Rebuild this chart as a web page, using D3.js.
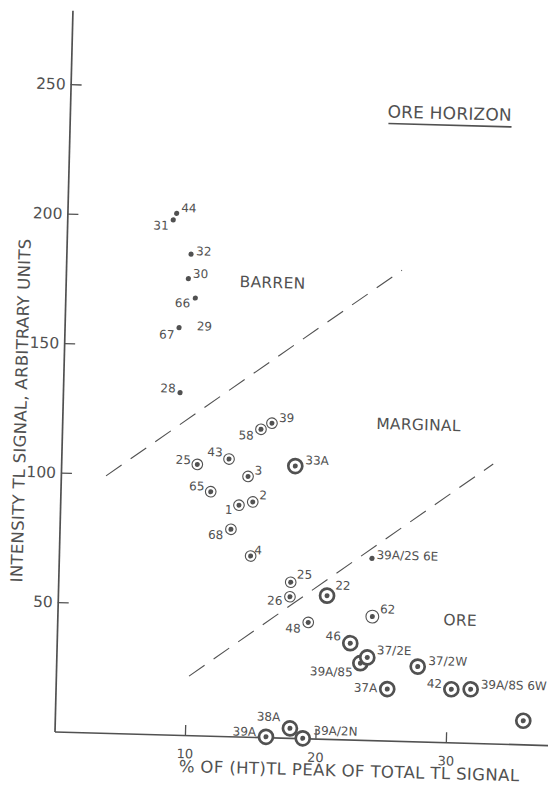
<!DOCTYPE html>
<html>
<head>
<meta charset="utf-8">
<script src="https://cdn.jsdelivr.net/npm/d3@7"></script>
<style>
  html, body { margin: 0; padding: 0; background: #fff; }
  svg { display: block; font-family: "DejaVu Sans", "Liberation Sans", sans-serif; }
</style>
</head>
<body>
<svg id="chart" width="548" height="792"></svg>
<script>
// Samples: share of the (HT) TL peak in the total TL signal (%) and TL intensity (arbitrary units)
const sampleId = ["44", "31", "32", "30", "66", "67", "29", "28",
  "39", "58", "25", "43", "33A", "3", "65", "1", "2", "68", "4",
  "39A/2S 6E", "25", "26", "22", "62", "48", "46", "39A/85", "37/2E", "37/2W",
  "37A", "42", "39A/8S 6W", "", "39A", "38A", "39A/2N"];
const pctHT = [8.37, 8.12, 9.55, 9.39, 9.96, 8.77, 10.13, 8.97,
  16.07, 15.24, 10.43, 12.85, 17.94, 14.34, 11.51, 13.70, 14.75, 13.13, 14.69,
  23.99, 17.81, 17.78, 20.62, 24.13, 19.23, 22.49, 23.30, 23.82, 27.70,
  25.41, 30.32, 31.80, 35.89, 16.21, 18.03, 19.03];
const intensity = [201.3, 198.7, 185.7, 176.2, 168.8, 157.2, 156.4, 132.1,
  121.3, 118.8, 104.6, 107.0, 105.0, 100.5, 94.2, 89.3, 90.7, 79.9, 69.8,
  70.2, 60.1, 54.5, 55.3, 47.7, 44.8, 37.2, 29.6, 31.9, 28.9,
  19.9, 20.5, 20.7, 9.1, 0.2, 3.7, 0.0];
// symbol class of each sample: plain dot, ringed dot, wide ring, heavy ring; "none" = label only
const symbolKind = ["dot", "dot", "dot", "dot", "dot", "dot", "none", "dot",
  "ring", "ring", "ring", "ring", "bold", "ring", "ring", "ring", "ring", "ring", "ring",
  "dot", "ring", "ring", "bold", "ringL", "ring", "bold", "bold", "bold", "bold",
  "bold", "bold", "bold", "bold", "bold", "bold", "bold"];

// Field boundaries (start and end points, in data units)
const barrenMarginalLine = [[3.46, 99.2], [25.74, 181.7]];
const marginalOreLine = [[10.20, 22.8], [33.10, 107.9]];

// Field names and their positions (data units)
const fieldNames = ["BARREN", "MARGINAL", "ORE"];
const fieldPct = [15.85, 27.3, 30.86];
const fieldIntensity = [173.5, 120.2, 45.2];

const xTicks = [10, 20, 30];
const yTicks = [50, 100, 150, 200, 250];
const xTitle = "% OF (HT)TL PEAK OF TOTAL TL SIGNAL";
const yTitle = "INTENSITY TL SIGNAL, ARBITRARY UNITS";
const panelTitle = "ORE HORIZON";

// Label offsets from each mark: [dx, dy, text-anchor]
const labelPlacement = [
  [4.5, -1.5, "start"], [-4.5, 10, "end"], [5, 1, "start"], [4.5, -1, "start"],
  [-5, 9.5, "end"], [-4.5, 11.5, "end"], [0, 0, "start"], [-4.5, 0, "end"],
  [7, -1.5, "start"], [-7, 10.5, "end"], [-6.5, 0, "end"], [-6.5, -2.5, "end"],
  [10, -2, "start"], [6.5, -2, "start"], [-6.5, -1, "end"], [-6.5, 9, "end"],
  [6.5, -3, "start"], [-7.5, 10, "end"], [3.5, -2, "start"],
  [4.5, 0.5, "start"], [6, -4, "start"], [-7.5, 8.5, "end"], [8, -6.5, "start"],
  [7.5, -3.5, "start"], [-7.5, 10.5, "end"], [-9.5, -2.5, "end"], [-7.5, 13.5, "end"],
  [9.5, -3.5, "start"], [10.5, -2, "start"], [-10, 3.5, "end"], [-9.5, -1, "end"],
  [10, -1, "start"], [0, 0, "start"], [-10, -0.5, "end"], [-10, -7, "end"], [10.5, -4, "start"]
];

const ink = "#515151";
const svg = d3.select("#chart");

// The whole plot frame sits slightly turned on the sheet
const frame = svg.append("g")
  .attr("transform", "matrix(0.9996,0.0274,-0.0249,0.9997,54.5,731.5)");

const x = d3.scaleLinear().domain([0, 38]).range([0, 38 * 13.05]);
const y = d3.scaleLinear().domain([0, 278.6]).range([0, -278.6 * 2.59]);

// Axes
const xAxis = frame.append("g")
  .call(d3.axisBottom(x).tickValues(xTicks).tickFormat(d3.format("d"))
    .tickSizeInner(-10).tickSizeOuter(0).tickPadding(14));
const yAxis = frame.append("g")
  .call(d3.axisLeft(y).tickValues(yTicks).tickFormat(d3.format("d"))
    .tickSizeInner(-11).tickSizeOuter(0).tickPadding(5));

[xAxis, yAxis].forEach(ax => {
  ax.attr("font-family", null).attr("font-size", null);
  ax.select(".domain").attr("stroke", ink).attr("stroke-width", 1.7);
  ax.selectAll(".tick line").attr("stroke", ink).attr("stroke-width", 1.3);
  ax.selectAll(".tick text").attr("fill", ink);
});
xAxis.selectAll(".tick text").attr("font-size", 13);
yAxis.selectAll(".tick text").attr("font-size", 15.5);

// Axis titles
frame.append("text")
  .attr("x", 295.5).attr("y", 37)
  .attr("text-anchor", "middle")
  .attr("font-size", 16.5).attr("letter-spacing", 0.4)
  .attr("fill", ink)
  .text(xTitle);

frame.append("text")
  .attr("transform", "translate(-36,-320) rotate(-90)")
  .attr("text-anchor", "middle")
  .attr("font-size", 16.5).attr("letter-spacing", 0.3)
  .attr("fill", ink)
  .text(yTitle);

// Field boundaries
const line = d3.line().x(d => x(d[0])).y(d => y(d[1]));
[barrenMarginalLine, marginalOreLine].forEach(pts => {
  frame.append("path")
    .attr("d", line(pts))
    .attr("fill", "none")
    .attr("stroke", ink)
    .attr("stroke-width", 1.1)
    .attr("stroke-dasharray", "19 11");
});

// Field names
fieldNames.forEach((name, i) => {
  frame.append("text")
    .attr("x", x(fieldPct[i])).attr("y", y(fieldIntensity[i]))
    .attr("text-anchor", "middle")
    .attr("font-size", 15.5).attr("letter-spacing", 0.3)
    .attr("fill", ink)
    .text(name);
});

// Panel heading, underlined
const heading = frame.append("text")
  .attr("x", x(29.1)).attr("y", y(240.5))
  .attr("text-anchor", "middle")
  .attr("font-size", 17).attr("letter-spacing", 0.2)
  .attr("fill", ink)
  .text(panelTitle);
const hb = heading.node().getBBox();
frame.append("line")
  .attr("x1", hb.x + 1).attr("x2", hb.x + hb.width)
  .attr("y1", y(240.5) + 6).attr("y2", y(240.5) + 6)
  .attr("stroke", ink).attr("stroke-width", 1.7);

// Sample marks
const samples = sampleId.map((id, i) => ({
  id, pct: pctHT[i], val: intensity[i], kind: symbolKind[i], place: labelPlacement[i]
}));

const marks = frame.append("g").selectAll("g")
  .data(samples)
  .join("g")
  .attr("transform", d => `translate(${x(d.pct)},${y(d.val)})`);

marks.filter(d => d.kind === "ring" || d.kind === "ringL")
  .append("circle")
  .attr("r", d => d.kind === "ringL" ? 6.4 : 5.3)
  .attr("fill", "#fff")
  .attr("stroke", ink)
  .attr("stroke-width", 1.1);

marks.filter(d => d.kind === "bold")
  .append("circle")
  .attr("r", 7)
  .attr("fill", "#fff")
  .attr("stroke", ink)
  .attr("stroke-width", 2.7);

marks.filter(d => d.kind !== "none")
  .append("circle")
  .attr("r", d => d.kind === "dot" ? 2.6 : 2.5)
  .attr("fill", ink);

marks.filter(d => d.id !== "")
  .append("text")
  .attr("x", d => d.place[0])
  .attr("y", d => d.place[1])
  .attr("text-anchor", d => d.place[2])
  .attr("font-size", 12)
  .attr("fill", ink)
  .text(d => d.id);
</script>
</body>
</html>
